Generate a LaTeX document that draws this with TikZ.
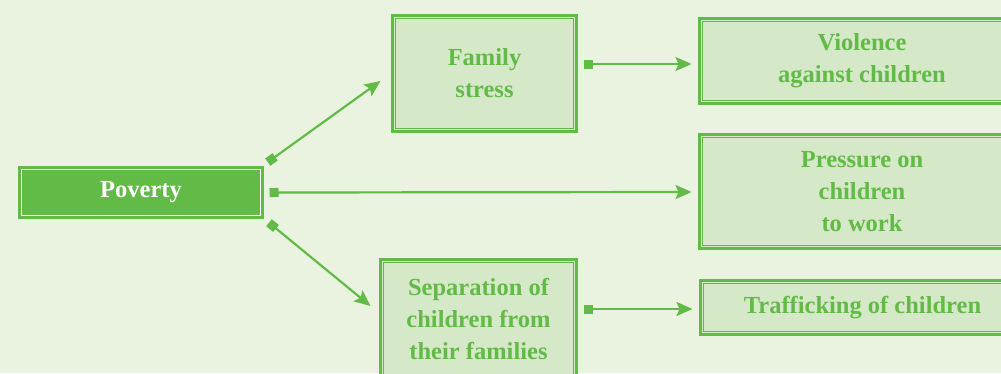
\documentclass[tikz,border=0pt]{standalone}
\usepackage{fontspec}
\setmainfont{Liberation Serif}
\usetikzlibrary{arrows.meta,calc}

\definecolor{bgcol}{HTML}{EAF3DF}
\definecolor{boxfill}{HTML}{D5E8C8}
\definecolor{leaf}{HTML}{62BB46}

\tikzset{
  lbl/.style={font=\bfseries\fontsize{24.5}{32}\selectfont, align=center},
  causebox/.style={lbl, rectangle, draw=leaf, line width=3pt, fill=boxfill,
    text=leaf, inner sep=0pt},
  rootbox/.style={lbl, rectangle, draw=leaf, line width=3pt, fill=leaf,
    text=white, inner sep=0pt},
  innerrule/.style={draw=leaf, line width=1.1pt},
  innerwhite/.style={draw=white, line width=1.2pt},
  link/.style={draw=leaf, line width=2.2pt,
    {Square[length=9pt,width=9pt]}-{Stealth[length=16pt,width=14pt,inset=3pt]}}
}

\begin{document}
\begin{tikzpicture}[x=1pt,y=-1pt]
  \useasboundingbox (0,0) rectangle (1001,373);
  \clip (0,0) rectangle (1001,373);
  \fill[bgcol] (0,0) rectangle (1001,373);

  % root cause
  \node[rootbox, minimum width=243pt, minimum height=50pt] (pov) at (141,192.5) {Poverty};

  % intermediate effects
  \node[causebox, minimum width=184pt, minimum height=116pt] (fam) at (484.5,73.5) {Family\\stress};
  \node[causebox, minimum width=196pt, minimum height=119pt] (sep) at (478.5,319) {Separation of\\children from\\their families};

  % outcomes
  \node[causebox, minimum width=325pt, minimum height=85pt] (viol) at (862,61) {Violence\\against children};
  \node[causebox, minimum width=325pt, minimum height=114pt] (press) at (862,191.5) {Pressure on\\children\\to work};
  \node[causebox, minimum width=324pt, minimum height=54pt] (traf) at (862.5,307.5) {Trafficking of children};

  % inner rules of the double frames
  \draw[innerwhite] ([shift={(3.6pt,-3.6pt)}]pov.north west) rectangle ([shift={(-3.6pt,3.6pt)}]pov.south east);
  \foreach \n in {fam,sep,viol,press,traf}
    \draw[innerrule] ([shift={(4.3pt,-4.3pt)}]\n.north west) rectangle ([shift={(-4.3pt,4.3pt)}]\n.south east);

  % connectors
  \draw[link] ($(pov.north east)+(3.8,-3.9)$) -- ($(fam.west)+(-10.5,7.5)$);
  \draw[link] ($(pov.east)+(5.5,0)$) -- ($(press.west)+(-6.5,0.5)$);
  \draw[link] ($(pov.south east)+(5,3.7)$) -- ($(sep.west)+(-8.5,-13)$);
  \draw[link] ($(fam.east)+(5.5,-9.5)$) -- ($(viol.west)+(-6.5,3)$);
  \draw[link] ($(sep.east)+(5.5,-10)$) -- ($(traf.west)+(-6.5,1.5)$);
\end{tikzpicture}
\end{document}
